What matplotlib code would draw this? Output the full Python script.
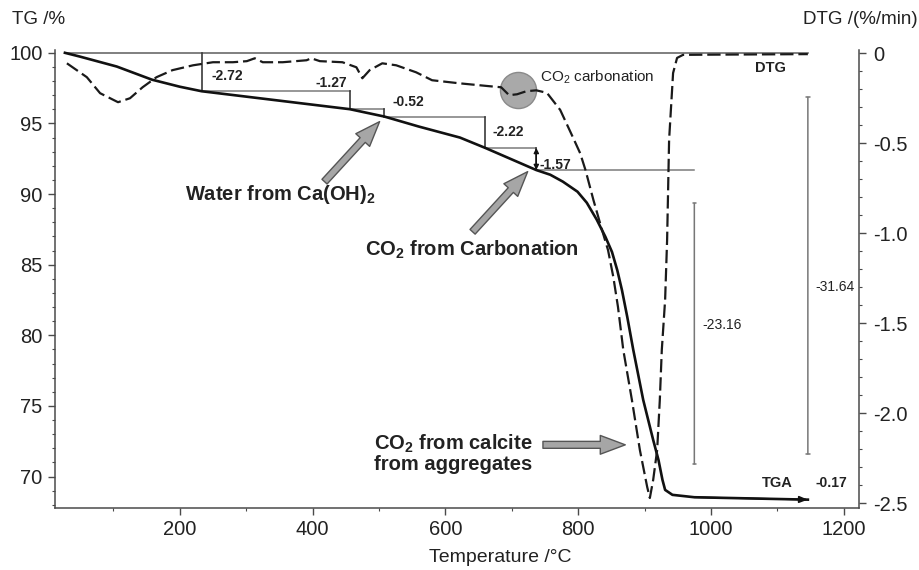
import numpy as np
import matplotlib.pyplot as plt

plt.rcParams['font.family'] = ['Liberation Sans', 'DejaVu Sans']
plt.rcParams['mathtext.fontset'] = 'custom'
plt.rcParams['mathtext.rm'] = 'Liberation Sans'
plt.rcParams['mathtext.bf'] = 'Liberation Sans:bold'
plt.rcParams['axes.unicode_minus'] = False

# TG curve: residual mass (%) vs temperature (C)
tg_temp = [27, 49, 105, 158, 200, 233, 456, 508, 560, 622, 660, 737, 758, 777, 799, 813,
           828, 841, 851, 859, 866, 874, 883, 898, 913, 921, 927, 931, 942, 975, 1146]
tg_mass = [100.0, 99.74, 99.03, 98.10, 97.60, 97.28, 96.01, 95.49, 94.78, 94.00, 93.27,
           91.70, 91.37, 90.88, 90.17, 89.39, 88.19, 86.98, 85.90, 84.60, 83.20, 81.30,
           78.98, 75.43, 72.60, 71.18, 69.77, 69.06, 68.71, 68.54, 68.37]

# DTG curve: mass loss rate (%/min)
dtg_temp = [30, 60, 80, 107, 125, 144, 165, 189, 220, 250, 280, 301, 313, 325, 355, 391,
            398, 411, 445, 466, 475, 486, 505, 526, 556, 580, 621, 666, 684, 696, 708, 722,
            737, 753, 773, 792, 803, 811, 823, 836, 845, 853, 860, 868, 881, 893, 904, 908,
            913, 919, 923, 926, 931, 934, 937, 943, 949, 958, 1000, 1146]
dtg_rate = [-0.056, -0.133, -0.222, -0.272, -0.250, -0.189, -0.133, -0.094, -0.067, -0.050,
            -0.050, -0.044, -0.028, -0.050, -0.050, -0.039, -0.028, -0.044, -0.050, -0.078,
            -0.139, -0.094, -0.056, -0.067, -0.106, -0.150, -0.167, -0.183, -0.189, -0.233,
            -0.228, -0.211, -0.206, -0.220, -0.315, -0.466, -0.555, -0.648, -0.815, -0.982,
            -1.093, -1.243, -1.409, -1.648, -1.926, -2.204, -2.409, -2.470, -2.370, -2.204,
            -1.926, -1.648, -1.370, -1.037, -0.481, -0.110, -0.026, -0.009, -0.008, -0.005]

# mass-loss steps (end temperature of each step, loss in %)
step_temp = [233, 456, 508, 660, 737, 975, 1146]
step_loss = [2.72, 1.27, 0.52, 2.22, 1.57, 23.16, 0.17]
total_loss = 31.64
carbonation_peak = (709, -0.204)

levels = 100 - np.cumsum(step_loss)
tops = np.concatenate([[100.0], levels[:-1]])

fig = plt.figure(figsize=(9.19, 5.70), dpi=100)
ax = fig.add_axes([0.0598, 0.1093, 0.8749, 0.8030])
ax2 = ax.twinx()

spine_c = '#4a4a4a'
for a in (ax, ax2):
    a.spines['top'].set_visible(False)
    for s in ('left', 'right', 'bottom'):
        a.spines[s].set_color(spine_c)
        a.spines[s].set_linewidth(1.1)
ax.spines['right'].set_visible(False)
ax2.spines['left'].set_visible(False)
ax2.spines['bottom'].set_visible(False)

ax.set_xlim(12, 1223)
ax.set_ylim(67.8, 100.2)
ax2.set_ylim(-2.524, 0.018)

ax.set_xticks(range(200, 1201, 200))
ax.set_xticks(range(100, 1201, 100), minor=True)
ax.set_yticks(range(70, 101, 5))
ax.set_yticks(range(68, 101, 1), minor=True)
dtg_ticks = [0, -0.5, -1.0, -1.5, -2.0, -2.5]
ax2.set_yticks(dtg_ticks, ['0'] + ['%.1f' % t for t in dtg_ticks[1:]])
ax2.set_yticks(np.arange(-2.5, 0.01, 0.1), minor=True)

for a in (ax, ax2):
    a.tick_params(which='major', length=5, width=1, color=spine_c, labelsize=14.5,
                  labelcolor='#222222', direction='out')
    a.tick_params(which='minor', length=2.5, width=0.8, color=spine_c, direction='out')
ax.tick_params(axis='y', pad=4)
ax.tick_params(axis='x', pad=4)
ax2.tick_params(axis='y', pad=5)

# reference line at 100 % / 0 %/min
ax.plot([tg_temp[0], step_temp[-1]], [100, 100], color='#6a6a6a', lw=1.2, zorder=2)

# TG and DTG curves
ax.plot(tg_temp, tg_mass, color='#111111', lw=1.9, zorder=4)
ax2.plot(carbonation_peak[0], carbonation_peak[1], 'o', ms=26, mfc='#a9a9a9',
         mec='#8a8a8a', mew=1, zorder=1)
ax2.plot(dtg_temp, dtg_rate, color='#1a1a1a', lw=1.6, ls=(0, (6, 2.2)), zorder=3)

# step brackets on the TG curve
prev_t = tg_temp[0]
for i in range(5):
    t = step_temp[i]
    if i > 0:
        ax.plot([prev_t, t], [tops[i], tops[i]], color='#7a7a7a', lw=1.1, zorder=2)
    ax.plot([t, t], [tops[i], levels[i]], color='#3a3a3a', lw=1.2, zorder=2)
    prev_t = t
ax.annotate('', xy=(step_temp[4], levels[4]), xytext=(step_temp[4], tops[4]),
            arrowprops=dict(arrowstyle='<|-|>,head_length=0.3,head_width=0.15',
                            color='#111111', lw=1, shrinkA=0, shrinkB=0))
# horizontal from the carbonation step across the calcite drop
ax.plot([step_temp[4], step_temp[5]], [levels[4], levels[4]], color='#7a7a7a', lw=1.1,
        zorder=2)

lbl_kw = dict(fontsize=10, fontweight='bold', color='#222222', textcoords='offset points',
              va='center')
ax.annotate('-%.2f' % step_loss[0], xy=(step_temp[0], (tops[0] + levels[0]) / 2),
            xytext=(7, -3), ha='left', **lbl_kw)
ax.annotate('-%.2f' % step_loss[1], xy=(step_temp[1], tops[1]), xytext=(-2, 6),
            ha='right', **lbl_kw)
ax.annotate('-%.2f' % step_loss[2], xy=(step_temp[2], tops[2]), xytext=(6, 5),
            ha='left', **lbl_kw)
ax.annotate('-%.2f' % step_loss[3], xy=(step_temp[3], (tops[3] + levels[3]) / 2),
            xytext=(5, 0), ha='left', **lbl_kw)
ax.annotate('-%.2f' % step_loss[4], xy=(step_temp[4], (tops[4] + levels[4]) / 2),
            xytext=(2, -4), ha='left', **lbl_kw)

# calcite decomposition and total loss brackets
ax.annotate('', xy=(step_temp[5], levels[5]), xytext=(step_temp[5], levels[4]),
            arrowprops=dict(arrowstyle='|-|,widthA=0.12,widthB=0.12', color='#777777',
                            lw=1.1, shrinkA=24, shrinkB=24))
ax.text(step_temp[5] + 12, 80.75, '-%.2f' % step_loss[5], fontsize=10, va='center',
        ha='left', color='#222222')
ax.annotate('', xy=(step_temp[6], 100 - total_loss), xytext=(step_temp[6], 100),
            arrowprops=dict(arrowstyle='|-|,widthA=0.12,widthB=0.12', color='#777777',
                            lw=1.1, shrinkA=32, shrinkB=33))
ax.text(step_temp[6] + 12, 83.45, '-%.2f' % total_loss, fontsize=10, va='center',
        ha='left', color='#222222')

# last step along the plateau
ax.annotate('', xy=(step_temp[6], levels[6]), xytext=(step_temp[5], levels[5]),
            arrowprops=dict(arrowstyle='-|>,head_length=0.5,head_width=0.2',
                            color='#111111', lw=1.2, shrinkA=0, shrinkB=0))
ax.text(1157, 69.55, '-%.2f' % step_loss[6], fontsize=10, fontweight='bold', va='center',
        ha='left', color='#222222')
ax.text(1077, 69.55, 'TGA', fontsize=10.5, fontweight='bold', va='center', ha='left',
        color='#222222')
ax2.text(1067, -0.082, 'DTG', fontsize=10.5, fontweight='bold', va='center', ha='left',
         color='#222222')
ax2.text(743, -0.132, r'CO$_2$ carbonation', fontsize=11, va='center', ha='left',
         color='#222222')

# explanatory labels with block arrows
big_arrow = dict(arrowstyle='simple,head_length=1.8,head_width=1.35,tail_width=0.5',
                 fc='#a6a6a6', ec='#555555', lw=1, shrinkA=0, shrinkB=0,
                 mutation_scale=10)
ax.annotate('', xy=(501, 95.13), xytext=(418, 90.88), arrowprops=big_arrow)
ax.text(351, 89.96, r'Water from Ca(OH)$_\mathbf{2}$', fontsize=14.5, fontweight='bold',
        ha='center', va='center', color='#222222')
ax.annotate('', xy=(724, 91.59), xytext=(641, 87.33), arrowprops=big_arrow)
ax.text(640, 86.05, r'CO$_\mathbf{2}$ from Carbonation', fontsize=14.5, fontweight='bold',
        ha='center', va='center', color='#222222')
ax.annotate('', xy=(871, 72.25), xytext=(747, 72.25), arrowprops=big_arrow)
ax.text(492, 71.67, 'CO$_\\mathbf{2}$ from calcite\nfrom aggregates', fontsize=14.5,
        fontweight='bold', ha='left', va='center', linespacing=1.0, color='#222222')

# axis titles
fig.text(12 / 919, 1 - 20 / 570, 'TG /%', fontsize=13.5, ha='left', va='center',
         color='#222222')
fig.text(918 / 919, 1 - 20 / 570, 'DTG /(%/min)', fontsize=13.5, ha='right', va='center',
         color='#222222')
fig.text(500 / 919, 1 - 557 / 570, 'Temperature /°C', fontsize=14, ha='center',
         va='center', color='#222222')

fig.savefig('out.png', dpi=100)
